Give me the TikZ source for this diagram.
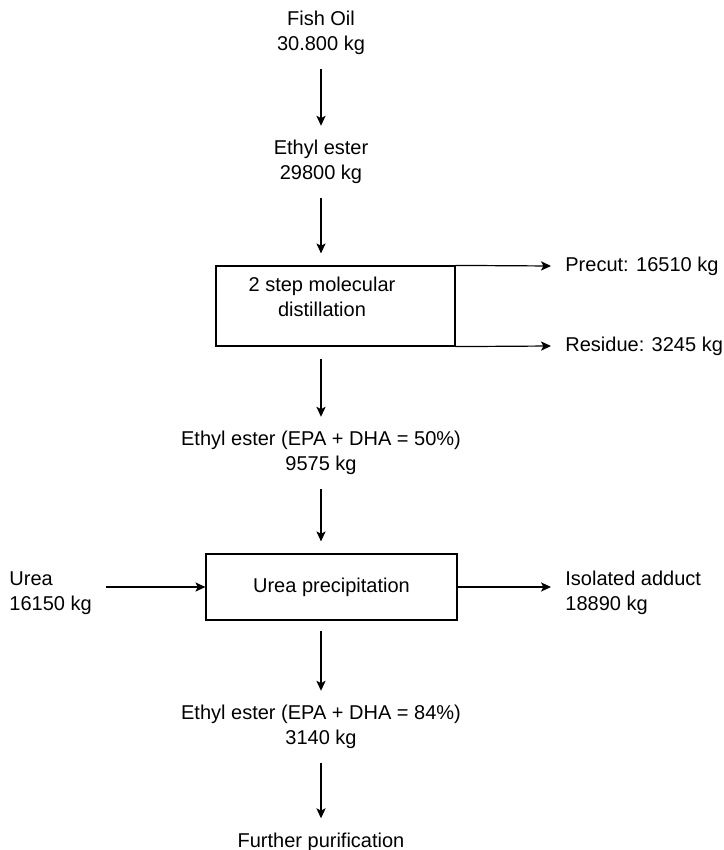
\documentclass[tikz,border=0pt]{standalone}
\usepackage{fontspec}
\setmainfont{Liberation Sans}
\usepackage{tikz}
\usetikzlibrary{arrows.meta, positioning, calc}
\tikzset{
  etiqueta/.style={align=center, inner sep=7pt, font=\fontsize{10}{12.5}\selectfont},
  caja/.style={draw, line width=0.6pt, inner sep=0pt, font=\fontsize{10}{12.5}\selectfont},
  flecha/.style={-{Stealth[length=5pt, width=4.6pt, inset=1.2pt]}, line width=0.6pt},
}

\begin{document}
\begin{tikzpicture}[x=0.5pt, y=-0.5pt]
  \useasboundingbox (0,0) rectangle (723,850);
  \node[etiqueta] (a) at (321,33) {Fish Oil\\30.800 kg};
  \node[etiqueta] (b) at (321,162) {Ethyl ester\\29800 kg};
  \node[caja, minimum width=119.5pt, minimum height=40pt] (c) at (335.5,306) {};
  \node[etiqueta, inner sep=0pt] (c1) at (322,297) {2 step molecular\\distillation};
  \node[etiqueta, anchor=west] (p) at (551,266) {Precut: 16510 kg};
  \node[etiqueta, anchor=west] (r) at (551,346) {Residue: 3245 kg};
  \node[etiqueta] (d) at (321,453) {Ethyl ester (EPA + DHA = 50\%)\\9575 kg};
  \node[caja, minimum width=125.5pt, minimum height=33pt] (e) at (331.5,587) {Urea precipitation};
  \node[etiqueta, align=left, anchor=west] (u) at (-5,593) {Urea\\16150 kg};
  \node[etiqueta, align=left, anchor=west] (i) at (551,593) {Isolated adduct\\18890 kg};
  \node[etiqueta] (f) at (321,727) {Ethyl ester (EPA + DHA = 84\%)\\3140 kg};
  \node[etiqueta] (g) at (321,842) {Further purification};
  \draw[flecha] (a) -- (b);
  \draw[flecha, shorten >=6pt] (b.south) -- (b.south |- c.north);
  \draw[flecha] (c.north east) -- (p.west);
  \draw[flecha] (c.south east) -- (r.west);
  \draw[flecha, shorten <=6pt] (c.south -| d.north) -- (d.north);
  \draw[flecha, shorten >=6pt] (d.south) -- (d.south |- e.north);
  \draw[flecha] (u.east |- e) -- (e.west);
  \draw[flecha] (e.east) -- (i.west |- e);
  \draw[flecha, shorten <=5pt] (e.south -| f.north) -- (f.north);
  \draw[flecha] (f) -- (g);
\end{tikzpicture}
\end{document}
